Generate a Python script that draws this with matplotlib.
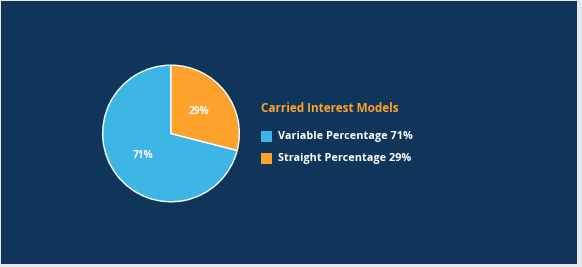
import matplotlib
matplotlib.use("Agg")
import matplotlib.pyplot as plt
from matplotlib.patches import Rectangle

labels = ["Variable Percentage", "Straight Percentage"]
values = [71, 29]
colors = ["#3db6e6", "#fda22c"]
title = "Carried Interest Models"

W, H = 582, 267
fig = plt.figure(figsize=(W / 100, H / 100), dpi=100)
fig.patch.set_facecolor("#e6e8ea")
fig.add_artist(Rectangle((1 / W, 3 / H), 576 / W, 263 / H, transform=fig.transFigure,
                         facecolor="#0f365a", edgecolor="none", zorder=-10))

fam = ["Open Sans", "DejaVu Sans"]
# pie axes: center (171,133.5) radius ~68.5
r = 69
ax = fig.add_axes([(171 - r) / W, (H - 133.5 - r) / H, 2 * r / W, 2 * r / H])
wedges, texts, autotexts = ax.pie(
    values, colors=colors, startangle=90, counterclock=True,
    wedgeprops=dict(edgecolor="white", linewidth=1.0),
    autopct=lambda p: f"{p:.0f}%", pctdistance=0.52,
    textprops=dict(color="white", fontsize=7.3, fontweight="bold", family=fam))
ax.set_aspect("equal")
ax.set_xlim(-1.01, 1.01)
ax.set_ylim(-1.01, 1.01)
ax.axis("off")

fig.text(261 / W, 1 - 109 / H, title, color="#fda22c", fontsize=8.5, fontweight="bold",
         family=fam, va="center", ha="left")
ys = [136, 158]
for lab, v, c, y in zip(labels, values, colors, ys):
    fig.add_artist(Rectangle((261 / W, 1 - (y + 5.5) / H), 11 / W, 11 / H,
                             transform=fig.transFigure, facecolor=c, edgecolor="none"))
    fig.text(278 / W, 1 - y / H, f"{lab} {v}%", color="white", fontsize=7.8,
             fontweight="bold", family=fam, va="center", ha="left")

fig.savefig("out.png", dpi=100, facecolor=fig.get_facecolor())
